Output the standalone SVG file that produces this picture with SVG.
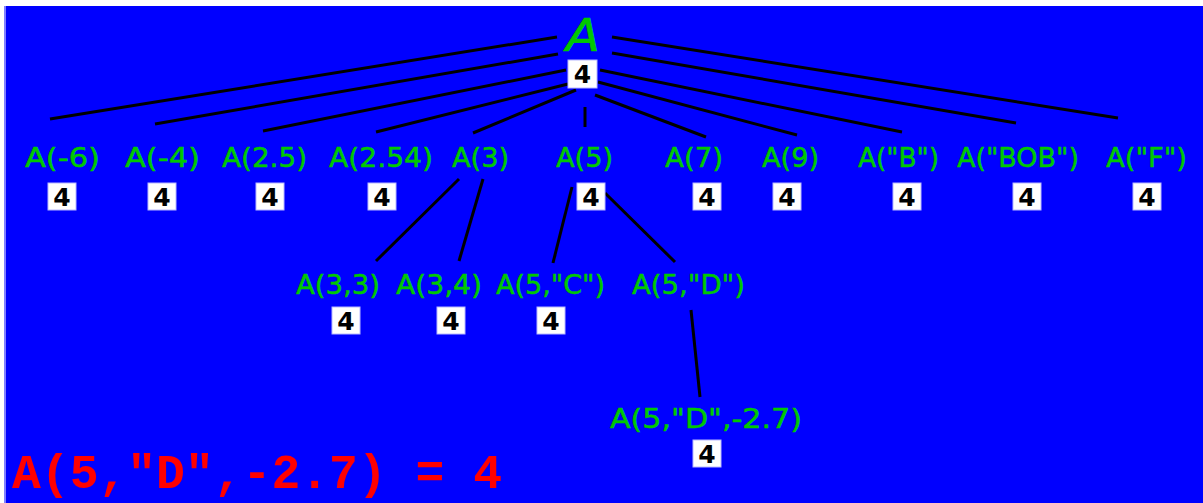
<svg xmlns="http://www.w3.org/2000/svg" width="1203" height="503" viewBox="0 0 1203 503">
  <style>
    .bg { fill: #0000FF; }
    .lbl { fill: #00C800; stroke: #00C800; stroke-width: 0.5; font-family: "DejaVu Sans", "Liberation Sans", sans-serif; font-size: 26px; }
    .root { fill: #00C800; stroke: #00C800; stroke-width: 0.6; font-family: "DejaVu Sans", sans-serif; font-size: 44px; font-style: italic; }
    .val rect { fill: #FFFFFF; stroke: #B8B8FF; stroke-width: 1; }
    .val text { fill: #000000; font-family: "DejaVu Sans", "Liberation Sans", sans-serif; font-size: 25px; font-weight: bold; text-anchor: middle; }
    .edges line { stroke: #000000; stroke-width: 3; stroke-linecap: butt; }
    .result { fill: #FF0000; font-family: "Liberation Mono", "DejaVu Sans Mono", monospace; font-size: 48px; font-weight: bold; }
  </style>

  <!-- canvas -->
  <rect x="0" y="0" width="1203" height="503" fill="#FFFFFF"/>
  <rect x="4" y="6" width="3" height="497" fill="#8080FF"/>
  <rect class="bg" x="6" y="6" width="1197" height="497"/>

  <!-- connectors -->
  <g id="connectors" class="edges">
    <line x1="557" y1="37" x2="50" y2="119"/>
    <line x1="558" y1="54" x2="155" y2="124"/>
    <line x1="566" y1="70" x2="263" y2="131"/>
    <line x1="568" y1="84" x2="376" y2="132"/>
    <line x1="576" y1="90" x2="473" y2="133"/>
    <line x1="585" y1="107" x2="585" y2="127"/>
    <line x1="612" y1="37" x2="1118" y2="118"/>
    <line x1="612" y1="53" x2="1016" y2="123"/>
    <line x1="600" y1="70" x2="902" y2="132"/>
    <line x1="598" y1="82" x2="797" y2="135"/>
    <line x1="595" y1="95" x2="706" y2="137"/>
    <line x1="459" y1="179" x2="376" y2="261"/>
    <line x1="483" y1="179" x2="459" y2="261"/>
    <line x1="572" y1="187" x2="553" y2="263"/>
    <line x1="605" y1="193" x2="675" y2="262"/>
    <line x1="691" y1="310" x2="700" y2="397"/>
  </g>

  <!-- root -->
  <g id="node-A">
    <text class="root" x="566" y="51" textLength="34" lengthAdjust="spacingAndGlyphs">A</text>
    <g class="val"><rect x="568" y="60" width="29" height="28"/><text x="582.5" y="83">4</text></g>
  </g>

  <!-- first level -->
  <g id="node-A-m6">
    <text class="lbl" x="25" y="167" textLength="75" lengthAdjust="spacingAndGlyphs">A(-6)</text>
    <g class="val"><rect x="48" y="183" width="28" height="27"/><text x="62" y="206">4</text></g>
  </g>
  <g id="node-A-m4">
    <text class="lbl" x="125" y="167" textLength="75" lengthAdjust="spacingAndGlyphs">A(-4)</text>
    <g class="val"><rect x="148" y="183" width="28" height="27"/><text x="162" y="206">4</text></g>
  </g>
  <g id="node-A-2_5">
    <text class="lbl" x="222" y="167" textLength="85" lengthAdjust="spacingAndGlyphs">A(2.5)</text>
    <g class="val"><rect x="256" y="183" width="28" height="27"/><text x="270" y="206">4</text></g>
  </g>
  <g id="node-A-2_54">
    <text class="lbl" x="329" y="167" textLength="104" lengthAdjust="spacingAndGlyphs">A(2.54)</text>
    <g class="val"><rect x="368" y="183" width="28" height="27"/><text x="382" y="206">4</text></g>
  </g>
  <g id="node-A-3">
    <text class="lbl" x="452" y="167" textLength="57" lengthAdjust="spacingAndGlyphs">A(3)</text>
  </g>
  <g id="node-A-5">
    <text class="lbl" x="556" y="167" textLength="57" lengthAdjust="spacingAndGlyphs">A(5)</text>
    <g class="val"><rect x="577" y="183" width="28" height="27"/><text x="591" y="206">4</text></g>
  </g>
  <g id="node-A-7">
    <text class="lbl" x="665" y="167" textLength="58" lengthAdjust="spacingAndGlyphs">A(7)</text>
    <g class="val"><rect x="693" y="183" width="28" height="27"/><text x="707" y="206">4</text></g>
  </g>
  <g id="node-A-9">
    <text class="lbl" x="762" y="167" textLength="57" lengthAdjust="spacingAndGlyphs">A(9)</text>
    <g class="val"><rect x="773" y="183" width="28" height="27"/><text x="787" y="206">4</text></g>
  </g>
  <g id="node-A-B">
    <text class="lbl" x="858" y="167" textLength="81" lengthAdjust="spacingAndGlyphs">A("B")</text>
    <g class="val"><rect x="893" y="183" width="28" height="27"/><text x="907" y="206">4</text></g>
  </g>
  <g id="node-A-BOB">
    <text class="lbl" x="957" y="167" textLength="122" lengthAdjust="spacingAndGlyphs">A("BOB")</text>
    <g class="val"><rect x="1013" y="183" width="28" height="27"/><text x="1027" y="206">4</text></g>
  </g>
  <g id="node-A-F">
    <text class="lbl" x="1106" y="167" textLength="81" lengthAdjust="spacingAndGlyphs">A("F")</text>
    <g class="val"><rect x="1133" y="183" width="28" height="27"/><text x="1147" y="206">4</text></g>
  </g>

  <!-- second level -->
  <g id="node-A-3-3">
    <text class="lbl" x="296" y="294" textLength="84" lengthAdjust="spacingAndGlyphs">A(3,3)</text>
    <g class="val"><rect x="332" y="307" width="28" height="27"/><text x="346" y="330">4</text></g>
  </g>
  <g id="node-A-3-4">
    <text class="lbl" x="396" y="294" textLength="86" lengthAdjust="spacingAndGlyphs">A(3,4)</text>
    <g class="val"><rect x="437" y="307" width="28" height="27"/><text x="451" y="330">4</text></g>
  </g>
  <g id="node-A-5-C">
    <text class="lbl" x="496" y="294" textLength="109" lengthAdjust="spacingAndGlyphs">A(5,"C")</text>
    <g class="val"><rect x="537" y="307" width="28" height="27"/><text x="551" y="330">4</text></g>
  </g>
  <g id="node-A-5-D">
    <text class="lbl" x="632" y="294" textLength="113" lengthAdjust="spacingAndGlyphs">A(5,"D")</text>
  </g>

  <!-- third level -->
  <g id="node-A-5-D-m2_7">
    <text class="lbl" x="610" y="428" textLength="192" lengthAdjust="spacingAndGlyphs">A(5,"D",-2.7)</text>
    <g class="val"><rect x="693" y="440" width="28" height="27"/><text x="707" y="463">4</text></g>
  </g>

  <!-- result line -->
  <text class="result" x="12" y="488" textLength="490" lengthAdjust="spacingAndGlyphs">A(5,"D",-2.7) = 4</text>
</svg>
